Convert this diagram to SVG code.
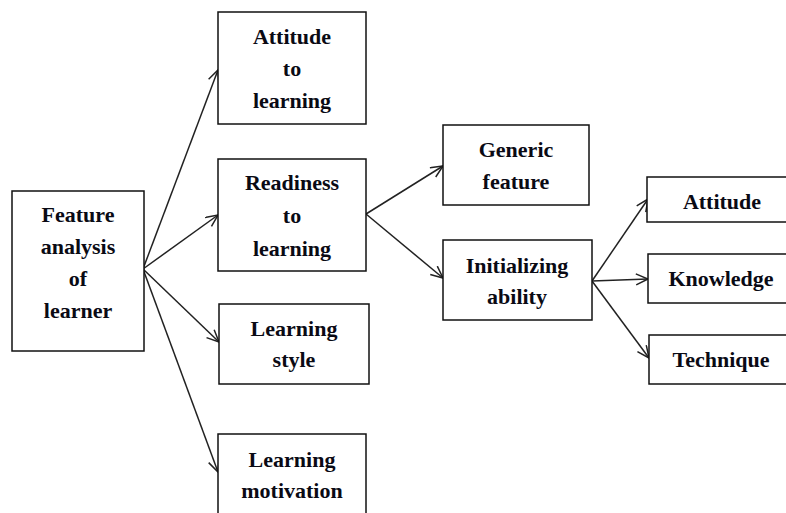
<svg xmlns="http://www.w3.org/2000/svg" width="786" height="513" viewBox="0 0 786 513">
  <defs>
    <marker id="arrow" markerUnits="userSpaceOnUse" markerWidth="16" markerHeight="14" refX="13" refY="6" orient="auto">
      <path d="M1,0.5 L13,6 L1,11.5" fill="none" stroke="#222" stroke-width="1.5"/>
    </marker>
    <style>
      .box { fill: #fff; stroke: #111; stroke-width: 1.5; }
      .lbl { font-family: "Liberation Serif", "Times New Roman", serif; font-weight: bold; font-size: 22px; fill: #0a0a14; text-anchor: middle; }
      .edge { stroke: #222; stroke-width: 1.5; fill: none; marker-end: url(#arrow); }
    </style>
  </defs>
  <rect width="786" height="513" fill="#fff"/>

  <g id="connectors">
    <line class="edge" x1="143" y1="269" x2="218" y2="70"/>
    <line class="edge" x1="143" y1="269" x2="218" y2="215"/>
    <line class="edge" x1="143" y1="269" x2="219" y2="342"/>
    <line class="edge" x1="143" y1="269" x2="218" y2="472"/>
    <line class="edge" x1="366" y1="214" x2="443" y2="166"/>
    <line class="edge" x1="366" y1="214" x2="443" y2="278"/>
    <line class="edge" x1="592" y1="281" x2="648" y2="199"/>
    <line class="edge" x1="592" y1="281" x2="648" y2="279"/>
    <line class="edge" x1="592" y1="281" x2="649" y2="358"/>
  </g>

  <g id="feature-analysis">
    <rect class="box" x="12" y="191" width="132" height="160"/>
    <text class="lbl" x="78" y="222">Feature</text>
    <text class="lbl" x="78" y="254">analysis</text>
    <text class="lbl" x="78" y="286">of</text>
    <text class="lbl" x="78" y="318">learner</text>
  </g>

  <g id="attitude-to-learning">
    <rect class="box" x="218" y="12" width="148" height="112"/>
    <text class="lbl" x="292" y="44">Attitude</text>
    <text class="lbl" x="292" y="76">to</text>
    <text class="lbl" x="292" y="108">learning</text>
  </g>

  <g id="readiness-to-learning">
    <rect class="box" x="218" y="159" width="148" height="112"/>
    <text class="lbl" x="292" y="190">Readiness</text>
    <text class="lbl" x="292" y="223">to</text>
    <text class="lbl" x="292" y="256">learning</text>
  </g>

  <g id="learning-style">
    <rect class="box" x="219" y="304" width="150" height="80"/>
    <text class="lbl" x="294" y="336">Learning</text>
    <text class="lbl" x="294" y="367">style</text>
  </g>

  <g id="learning-motivation">
    <rect class="box" x="218" y="434" width="148" height="90"/>
    <text class="lbl" x="292" y="467">Learning</text>
    <text class="lbl" x="292" y="498">motivation</text>
  </g>

  <g id="generic-feature">
    <rect class="box" x="443" y="125" width="146" height="80"/>
    <text class="lbl" x="516" y="157">Generic</text>
    <text class="lbl" x="516" y="189">feature</text>
  </g>

  <g id="initializing-ability">
    <rect class="box" x="443" y="240" width="149" height="80"/>
    <text class="lbl" x="517" y="273">Initializing</text>
    <text class="lbl" x="517" y="304">ability</text>
  </g>

  <g id="attitude">
    <rect class="box" x="647" y="177" width="150" height="45"/>
    <text class="lbl" x="722" y="209">Attitude</text>
  </g>

  <g id="knowledge">
    <rect class="box" x="648" y="254" width="150" height="49"/>
    <text class="lbl" x="721" y="286">Knowledge</text>
  </g>

  <g id="technique">
    <rect class="box" x="649" y="335" width="150" height="49"/>
    <text class="lbl" x="721" y="367">Technique</text>
  </g>
</svg>
